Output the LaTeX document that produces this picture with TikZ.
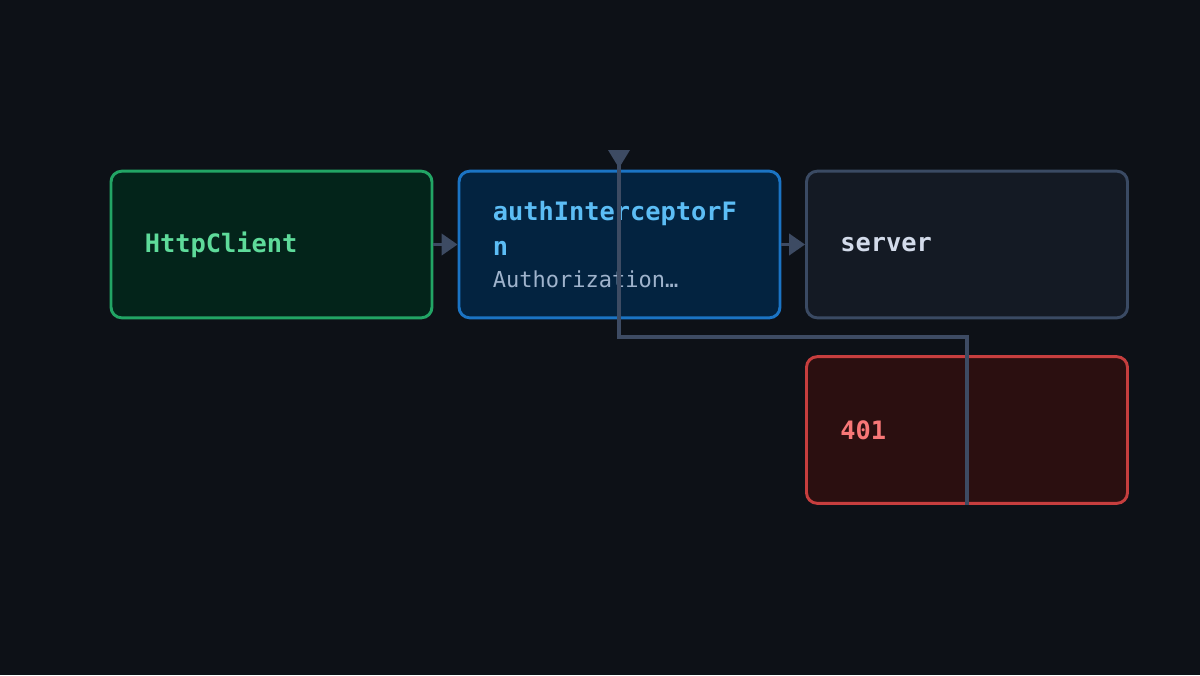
\documentclass[tikz,border=0pt]{standalone}
\usepackage{fontspec}
\setmonofont{DejaVu Sans Mono}
\usetikzlibrary{arrows.meta}
\definecolor{bgc}{HTML}{0D1117}
\definecolor{wire}{HTML}{3D4B63}
\definecolor{grnB}{HTML}{22A565}\definecolor{grnF}{HTML}{03241A}\definecolor{grnT}{HTML}{5EDB9A}
\definecolor{bluB}{HTML}{1B74C4}\definecolor{bluF}{HTML}{032340}\definecolor{bluT}{HTML}{5CBDF5}
\definecolor{srvB}{HTML}{3A4A63}\definecolor{srvF}{HTML}{141A24}\definecolor{srvT}{HTML}{D3DBEA}
\definecolor{redB}{HTML}{C63E3E}\definecolor{redF}{HTML}{2B0F10}\definecolor{redT}{HTML}{F87777}
\definecolor{subT}{HTML}{9FB3CC}
\tikzset{
  box/.style={draw, line width=2.2pt, rounded corners=8pt, minimum width=240.75pt,
    minimum height=110pt, text width=190pt, align=left, inner sep=0pt,
    font=\ttfamily\bfseries\fontsize{19}{26}\selectfont},
  flow/.style={draw=wire, line width=2.4pt, -{Triangle[length=12pt,width=16pt]}}
}
\begin{document}
\begin{tikzpicture}[x=0.75pt,y=-0.75pt]
  \fill[bgc] (0,0) rectangle (1200,675);
  \node[box, draw=grnB, fill=grnF, text=grnT] (client) at (271.5,244.5) {HttpClient};
  \node[box, draw=bluB, fill=bluF, text=bluT] (auth) at (619.5,244.5)
    {authInterceptorF\\n\\[-2pt]{\mdseries\color{subT}\fontsize{16.5}{22}\selectfont Authorization…}};
  \node[box, draw=srvB, fill=srvF, text=srvT] (server) at (967,244.5) {server};
  \node[box, draw=redB, fill=redF, text=redT] (deny) at (967,430) {401};
  \draw[flow] (client.east) -- (auth.west);
  \draw[flow] (auth.east) -- (server.west);
  \coordinate (top) at (619,150);
  \draw[draw=wire, line width=2.4pt] (deny.south) -- (967,337) -- (619,337) -- (top);
  \fill[wire] (top) ++(-11,0) -- ++(22,0) -- (619,168) -- cycle;
\end{tikzpicture}
\end{document}
